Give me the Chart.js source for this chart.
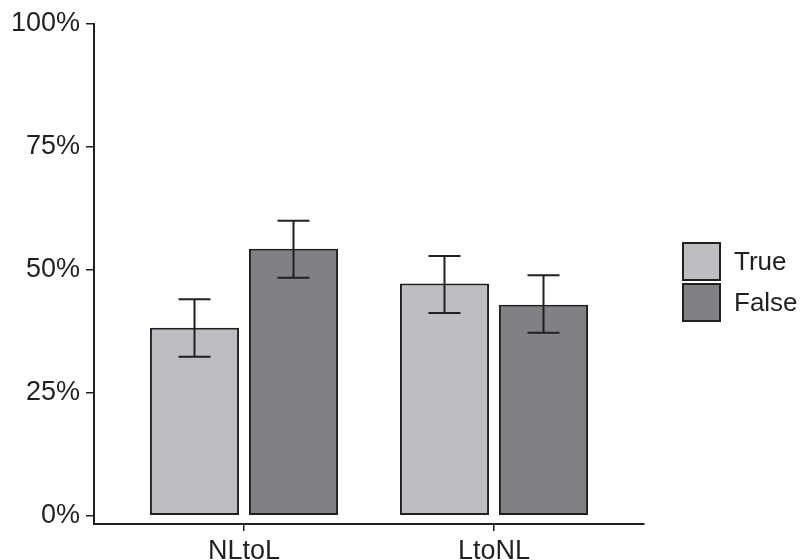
<!DOCTYPE html>
<html>
<head>
<meta charset="utf-8">
<title>NLtoL / LtoNL</title>
<script src="https://cdn.jsdelivr.net/npm/chart.js@4/dist/chart.umd.min.js"></script>
<style>
  html, body { margin: 0; padding: 0; background: #ffffff; }
  #wrap { width: 801px; height: 560px; }
</style>
</head>
<body>
<div id="wrap"><canvas id="chart" width="801" height="560"></canvas></div>
<script>
// Categories and series
const categories = ['NLtoL', 'LtoNL'];
const seriesNames = ['True', 'False'];

// Mean percentage per category
const trueValues = [38.2, 47.2];
const falseValues = [54.3, 42.9];

// Error bar limits (percent)
const trueLower = [32.3, 41.2];
const trueUpper = [44.0, 52.8];
const falseLower = [48.4, 37.2];
const falseUpper = [60.0, 48.9];

// Y axis tick values
const yTickValues = [0, 25, 50, 75, 100];

const INK = '#231F20';
const FONT = '"Liberation Sans", Arial, Helvetica, sans-serif';

const toPoints = (vals) => vals.map((v, i) => ({ x: i + 1, y: v }));

// Whiskers with caps on top of each bar
const errorBars = {
  id: 'errorBars',
  afterDatasetsDraw(chart, args, opts) {
    const ctx = chart.ctx;
    const yScale = chart.scales.y;
    chart.data.datasets.forEach((ds, d) => {
      const meta = chart.getDatasetMeta(d);
      meta.data.forEach((bar, i) => {
        const lo = yScale.getPixelForValue(ds.errLow[i]);
        const hi = yScale.getPixelForValue(ds.errHigh[i]);
        const half = opts.capWidth / 2;
        ctx.save();
        ctx.strokeStyle = opts.color;
        ctx.lineWidth = opts.lineWidth;
        ctx.beginPath();
        ctx.moveTo(bar.x, hi);
        ctx.lineTo(bar.x, lo);
        ctx.moveTo(bar.x - half, hi);
        ctx.lineTo(bar.x + half, hi);
        ctx.moveTo(bar.x - half, lo);
        ctx.lineTo(bar.x + half, lo);
        ctx.stroke();
        ctx.restore();
      });
    });
  }
};

// Square-swatch legend to the right of the plot
const sideLegend = {
  id: 'sideLegend',
  afterDraw(chart, args, opts) {
    const ctx = chart.ctx;
    ctx.save();
    chart.data.datasets.forEach((ds, i) => {
      const x = opts.x;
      const y = opts.y + i * (opts.box + opts.gap);
      ctx.fillStyle = ds.backgroundColor;
      ctx.fillRect(x, y, opts.box, opts.box);
      ctx.strokeStyle = INK;
      ctx.lineWidth = opts.lineWidth;
      ctx.strokeRect(x, y, opts.box, opts.box);
      ctx.fillStyle = INK;
      ctx.font = opts.fontSize + 'px ' + FONT;
      ctx.textAlign = 'left';
      ctx.textBaseline = 'middle';
      ctx.fillText(ds.label, x + opts.box + opts.textGap, y + opts.box / 2 + 1);
    });
    ctx.restore();
  }
};

new Chart(document.getElementById('chart'), {
  type: 'bar',
  data: {
    datasets: [
      {
        label: seriesNames[0],
        data: toPoints(trueValues),
        errLow: trueLower,
        errHigh: trueUpper,
        backgroundColor: '#BDBEC1',
        borderColor: INK,
        borderWidth: 2,
        borderSkipped: false,
        barPercentage: 0.9,
        categoryPercentage: 0.792
      },
      {
        label: seriesNames[1],
        data: toPoints(falseValues),
        errLow: falseLower,
        errHigh: falseUpper,
        backgroundColor: '#808184',
        borderColor: INK,
        borderWidth: 2,
        borderSkipped: false,
        barPercentage: 0.9,
        categoryPercentage: 0.792
      }
    ]
  },
  options: {
    responsive: false,
    animation: false,
    devicePixelRatio: 1,
    layout: { padding: { top: 24, right: 157, bottom: 0, left: 0 } },
    plugins: {
      legend: { display: false },
      tooltip: { enabled: false },
      errorBars: { capWidth: 32, lineWidth: 2, color: INK },
      sideLegend: { x: 683, y: 243, box: 37, gap: 4, textGap: 14, fontSize: 26, lineWidth: 2 }
    },
    scales: {
      x: {
        type: 'linear',
        min: 0.4,
        max: 2.6,
        offset: false,
        afterBuildTicks: (s) => { s.ticks = categories.map((c, i) => ({ value: i + 1 })); },
        afterFit: (s) => { s.height = 36; },
        ticks: {
          callback: (v) => categories[v - 1],
          color: INK,
          font: { family: FONT, size: 27 },
          padding: 4,
          maxRotation: 0,
          autoSkip: false
        },
        grid: { offset: false, drawOnChartArea: false, drawTicks: true, tickLength: 7, color: INK, lineWidth: 1.5 },
        border: { display: true, color: INK, width: 2 }
      },
      y: {
        min: -1.7,
        max: 100,
        afterBuildTicks: (s) => { s.ticks = yTickValues.map((v) => ({ value: v })); },
        afterFit: (s) => { s.width = 94; },
        ticks: {
          callback: (v) => v + '%',
          color: INK,
          font: { family: FONT, size: 27 },
          padding: 6,
          autoSkip: false
        },
        grid: { drawOnChartArea: false, drawTicks: true, tickLength: 8, color: INK, lineWidth: 1.5 },
        border: { display: true, color: INK, width: 2 }
      }
    }
  },
  plugins: [errorBars, sideLegend]
});
</script>
</body>
</html>
